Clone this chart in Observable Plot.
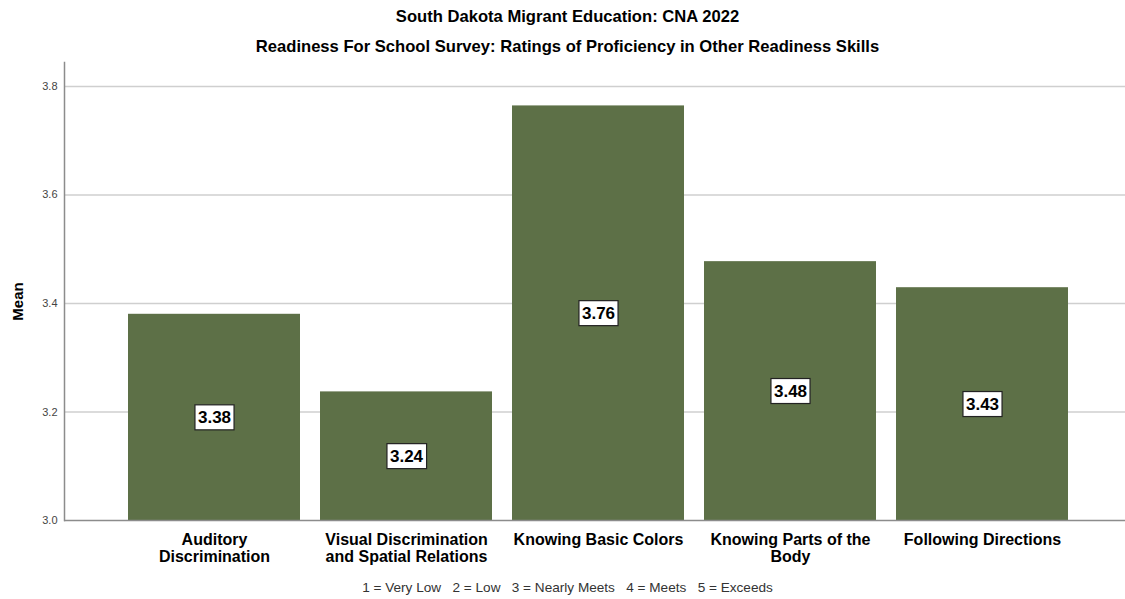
<!DOCTYPE html>
<html>
<head>
<meta charset="utf-8">
<script src="https://cdn.jsdelivr.net/npm/d3@7"></script>
<script src="https://cdn.jsdelivr.net/npm/@observablehq/plot@0.6"></script>
<style>
  html, body { margin: 0; padding: 0; background: #fff; }
  body { width: 1125px; height: 599px; overflow: hidden; font-family: "Liberation Sans", Arial, sans-serif; }
  .title { height: 34px; line-height: 34px; text-align: center; padding-left: 10px; font-size: 16.6px; font-weight: bold; color: #000; }
  .subtitle { height: 26px; line-height: 26px; text-align: center; padding-left: 10px; font-size: 16.6px; font-weight: bold; color: #000; }
  .footer { height: 29px; line-height: 36px; text-align: center; padding-left: 10px; font-size: 13.6px; color: #333; white-space: pre; }
  #chart svg { display: block; }
  #chart g[aria-label="x-axis tick label"] text { font-weight: bold; }
</style>
</head>
<body>
<div class="title">South Dakota Migrant Education: CNA 2022</div>
<div class="subtitle">Readiness For School Survey: Ratings of Proficiency in Other Readiness Skills</div>
<div id="chart"></div>
<div class="footer">1 = Very Low   2 = Low   3 = Nearly Meets   4 = Meets   5 = Exceeds</div>
<script>
const categories = ["Auditory Discrimination", "Visual Discrimination and Spatial Relations", "Knowing Basic Colors", "Knowing Parts of the Body", "Following Directions"];
const tickLabels = ["Auditory\nDiscrimination", "Visual Discrimination\nand Spatial Relations", "Knowing Basic Colors", "Knowing Parts of the\nBody", "Following Directions"];
const means = [3.38, 3.237, 3.764, 3.477, 3.429];
const yTicks = [3.0, 3.2, 3.4, 3.6, 3.8];
const yLabel = "Mean";

const data = categories.map((c, i) => ({category: c, mean: means[i]}));
const labelOf = new Map(categories.map((c, i) => [c, tickLabels[i]]));
const font = "'Liberation Sans', Arial, sans-serif";
const barColor = "#5d7047";

const plot = Plot.plot({
  width: 1125,
  height: 510,
  marginTop: 2,
  marginBottom: 50,
  marginLeft: 64,
  marginRight: 0,
  style: {fontFamily: font, background: "#fff"},
  x: {domain: categories, paddingInner: 0.104, paddingOuter: 0.31, align: 0.53},
  y: {domain: [3.0, 3.844]},
  marks: [
    Plot.gridY(yTicks.slice(1), {stroke: "#cfcfcf", strokeOpacity: 1, strokeWidth: 1.5}),
    Plot.barY(data, {x: "category", y1: 3.0, y2: "mean", fill: barColor}),
    Plot.ruleY([3.0], {stroke: "#8c8c8c", strokeWidth: 1.5}),
    Plot.frame({anchor: "left", stroke: "#8c8c8c", strokeWidth: 1.5}),
    Plot.axisY({ticks: yTicks, tickFormat: d3.format(".1f"), tickSize: 0, tickPadding: 7, fontSize: 11, fill: "#444", label: null}),
    Plot.axisX({tickSize: 0, tickPadding: 12, fontSize: 16, fontWeight: "bold", lineHeight: 1.06, fill: "#000", label: null, tickFormat: d => labelOf.get(d)}),
    Plot.text([yLabel], {text: d => d, frameAnchor: "left", textAnchor: "middle", rotate: -90, dx: -46, dy: 10, fontSize: 15, fontWeight: "bold", fill: "#000"}),
    Plot.text(data, {x: "category", y: d => (3.0 + d.mean) / 2, text: d => d3.format(".2f")(d.mean), fontSize: 17, fontWeight: "bold", fill: "#000", className: "vlabel"})
  ]
});
document.getElementById("chart").appendChild(plot);

// white boxes with black border behind the value labels
plot.querySelectorAll("g.vlabel text").forEach(t => {
  const b = t.getBBox();
  const ns = "http://www.w3.org/2000/svg";
  const r = document.createElementNS(ns, "rect");
  r.setAttribute("x", b.x - 3);
  r.setAttribute("y", b.y - 3);
  r.setAttribute("width", b.width + 6);
  r.setAttribute("height", b.height + 6);
  r.setAttribute("fill", "#fff");
  r.setAttribute("stroke", "#222");
  r.setAttribute("stroke-width", 1.2);
  if (t.getAttribute("transform")) r.setAttribute("transform", t.getAttribute("transform"));
  t.parentNode.insertBefore(r, t);
});
</script>
</body>
</html>
